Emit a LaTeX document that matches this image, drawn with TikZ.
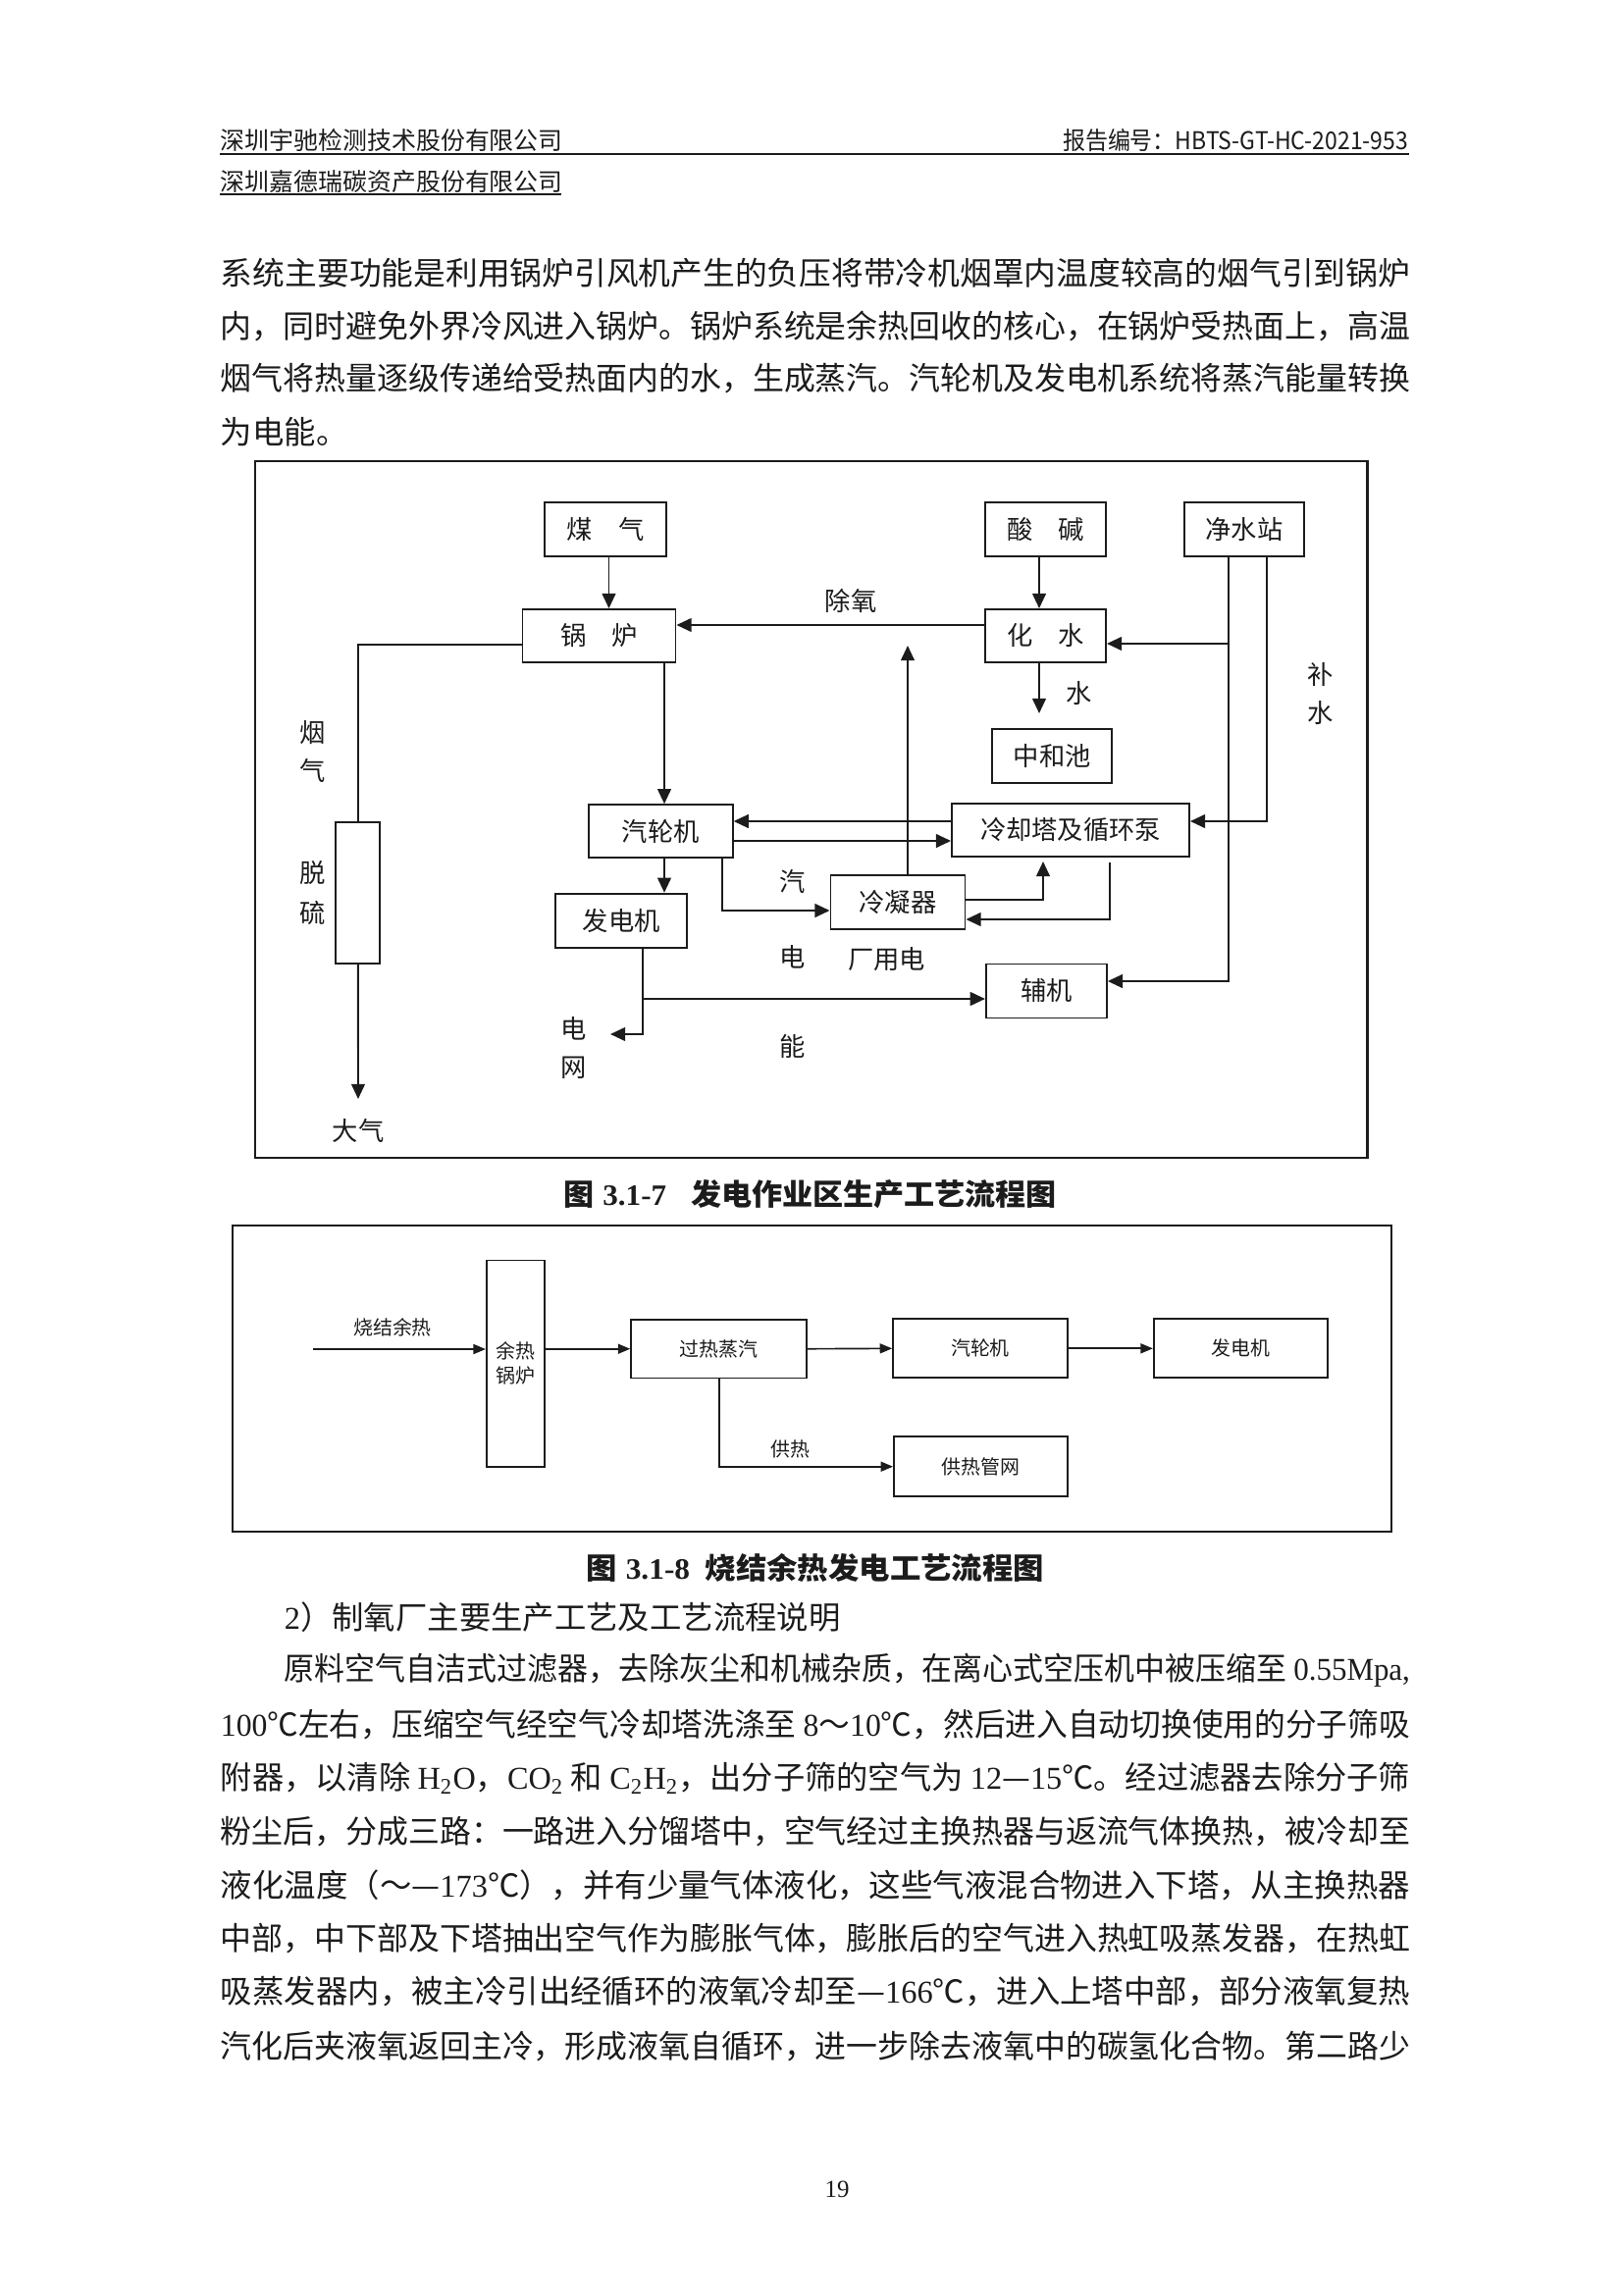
\documentclass[tikz,border=0pt]{standalone}
\usepackage{fontspec}
\usepackage{graphicx}
\setmainfont{Liberation Serif}
\newfontfamily\cjk{Noto Sans CJK SC}
\usetikzlibrary{positioning, arrows.meta}
\definecolor{pageInk}{HTML}{1C1C1C}
\newlength\pxl
\setlength\pxl{0.127mm}
\newcommand\tms[1]{{\rmfamily #1}}
\newcommand\fullline[1]{\resizebox{1212\pxl}{\height}{#1}}

\begin{document}
\begin{tikzpicture}[x=0.127mm, y=-0.127mm, font=\cjk, color=pageInk, line width=0.7pt,
  box/.style={draw, rectangle, inner sep=0pt, font=\cjk\fontsize{9.5}{11}\selectfont},
  boxs/.style={draw, rectangle, inner sep=0pt, align=center, line width=0.6pt, font=\cjk\fontsize{7.2}{9}\selectfont},
  lbl/.style={inner sep=0pt, font=\cjk\fontsize{9.5}{11}\selectfont},
  lbls/.style={inner sep=0pt, font=\cjk\fontsize{7.2}{9}\selectfont},
  arr/.style={-{Triangle[length=5.5pt, width=5pt]}},
  arrs/.style={-{Triangle[length=4.5pt, width=3.6pt]}, line width=0.6pt},
  body/.style={anchor=west, inner sep=0pt, font=\cjk\fontsize{11.7}{14}\selectfont},
  captxt/.style={inner sep=0pt, font=\cjk\bfseries\fontsize{10.9}{13}\selectfont}]
  \fill[white] (0,0) rectangle (1654,2340);
  \useasboundingbox (0,0) rectangle (1654,2340);

  % page header
  \node[anchor=west, inner sep=0pt, font=\cjk\fontsize{9}{11}\selectfont] (headA) at (224,143) {深圳宇驰检测技术股份有限公司};
  \node[anchor=east, inner sep=0pt, font=\cjk\fontsize{9}{11}\selectfont] (headNo) at (1436,143) {\resizebox{352\pxl}{\height}{报告编号：HBTS-GT-HC-2021-953}};
  \node[anchor=west, inner sep=0pt, font=\cjk\fontsize{9}{11}\selectfont] (headB) at (224,185) {深圳嘉德瑞碳资产股份有限公司};
  \draw[line width=0.9pt] (224,157) -- (1436,157);
  \draw[line width=0.5pt] (224,198) -- (572,198);

  % first paragraph
  \node[body] (p1) at (224,278) {\fullline{系统主要功能是利用锅炉引风机产生的负压将带冷机烟罩内温度较高的烟气引到锅炉}};
  \node[body] (p2) at (224,332) {\fullline{内，同时避免外界冷风进入锅炉。锅炉系统是余热回收的核心，在锅炉受热面上，高温}};
  \node[body] (p3) at (224,386) {\fullline{烟气将热量逐级传递给受热面内的水，生成蒸汽。汽轮机及发电机系统将蒸汽能量转换}};
  \node[body] (p4) at (224,440) {为电能。};

  % figure 3.1-7
  \draw[line width=0.8pt] (260,470) rectangle (1393.5,1180);
  \foreach \n/\cx/\cy/\w/\h/\t in {
    meiqi/617/539.5/124/55/{煤\quad 气},
    guolu/610.5/648/156/54/{锅\quad 炉},
    suanjian/1065.5/539.5/123/55/{酸\quad 碱},
    jingshui/1268/539.5/122/55/{净水站},
    huashui/1065.5/648/123/54/{化\quad 水},
    zhonghe/1072.4/770.8/122/55/{中和池},
    qilunji/673.2/847.2/147/54/{汽轮机},
    lengque/1091/845.9/242/54/{冷却塔及循环泵},
    lengning/915/919.2/137/55/{冷凝器},
    fadian/633.2/938.2/134/55/{发电机},
    fuji/1066.4/1010/123/55/{辅机},
    tuoliu/364.9/909.6/45/144/{}}{
    \node[box, minimum width=\w*0.127mm, minimum height=\h*0.127mm] (\n) at (\cx,\cy) {\t};
  }
  \foreach \n/\cx/\cy/\t in {
    yan/319/747/烟, qi/319/785/气, tuo/319/890/脱, liu/319/930/硫, daqi/365/1152/大气,
    chuyang/867/612/除氧, bu/1346/687/补, bushui/1346/727/水, shui/1100/707/水,
    qiB/808/898.5/汽, dian/808/975/电, neng/808/1066/能, changyong/903.5/978/厂用电,
    dianw/584.5/1048/电, wang/584.5/1088/网}{
    \node[lbl] (l-\n) at (\cx,\cy) {\t};
  }
  \coordinate (daqiIn) at (365,1120);
  \coordinate (zhIn) at (1059,727);
  \coordinate (jsA) at (1252,656);
  \coordinate (upTip) at (925,658);
  \coordinate (ltIn) at (1063,878);
  \coordinate (ltOut) at (1131,879);
  \coordinate (gridTip) at (622,1054);
  \coordinate (fjBr) at (655,1018);
  \draw (guolu.west |- 0,657) -| (tuoliu.north);
  \draw[arr] (tuoliu.south) -- (daqiIn);
  \draw[arr] (620.5,0 |- meiqi.south) -- (620.5,0 |- guolu.north);
  \draw[arr] (1059,0 |- suanjian.south) -- (1059,0 |- huashui.north);
  \draw[arr] (huashui.west |- 0,637) -- (guolu.east |- 0,637);
  \draw[arr] (1059,0 |- huashui.south) -- (zhIn);
  \draw[arr] (1252,0 |- jingshui.south) |- (fuji.east |- 0,1000);
  \draw[arr] (jsA) -- (huashui.east |- jsA);
  \draw[arr] (1291,0 |- jingshui.south) |- (lengque.east |- 0,837);
  \draw[arr] (677,0 |- guolu.south) -- (677,0 |- qilunji.north);
  \draw[arr] (lengque.west |- 0,837) -- (qilunji.east |- 0,837);
  \draw[arr] (qilunji.east |- 0,857) -- (lengque.west |- 0,857);
  \draw[arr] (925,0 |- lengning.north) -- (upTip);
  \draw[arr] (736,0 |- qilunji.south) |- (lengning.west |- 0,928);
  \draw[arr] (677,0 |- qilunji.south) -- (677,0 |- fadian.north);
  \draw[arr] (lengning.east |- 0,917) -| (ltIn);
  \draw[arr] (ltOut) |- (lengning.east |- 0,937);
  \draw[arr] (655,0 |- fadian.south) |- (gridTip);
  \draw[arr] (fjBr) -- (fuji.west |- fjBr);
  \node[captxt] (cap1) at (825.5,1217) {\resizebox{503\pxl}{\height}{图\hspace{0.3em}\tms{3.1-7}\hspace{0.8em}发电作业区生产工艺流程图}};

  % figure 3.1-8
  \draw[line width=0.8pt] (237,1249) rectangle (1418,1561);
  \foreach \n/\cx/\cy/\w/\h/\t in {
    yure/525.4/1389.7/59.3/210.7/{余热\\锅炉},
    guore/732.6/1374.7/179/59.3/{过热蒸汽},
    qlj/999/1374.3/178/60/{汽轮机},
    fdj/1264.2/1374.3/177/60/{发电机},
    gongre/999.4/1494.7/177/61/{供热管网}}{
    \node[boxs, minimum width=\w*0.127mm, minimum height=\h*0.127mm] (\n) at (\cx,\cy) {\t};
  }
  \node[lbls] (l-shaojie) at (400,1353) {烧结余热};
  \node[lbls] (l-gongre) at (805,1477) {供热};
  \coordinate (sjIn) at (319,1375);
  \draw[arrs] (sjIn) -- (yure.west |- sjIn);
  \draw[arrs] (yure.east |- guore.west) -- (guore.west);
  \draw[arrs] (guore.east) -- (qlj.west);
  \draw[arrs] (qlj.east) -- (fdj.west);
  \draw[arrs] (733,0 |- guore.south) |- (gongre.west);
  \node[captxt] (cap2) at (830.5,1598) {\resizebox{467\pxl}{\height}{图\hspace{0.3em}\tms{3.1-8}\hspace{0.5em}烧结余热发电工艺流程图}};

  % second text block
  \node[body] (q0) at (289,1648) {\tms{2}）制氧厂主要生产工艺及工艺流程说明};
  \node[body] (q1) at (289,1702) {\resizebox{1147\pxl}{\height}{原料空气自洁式过滤器，去除灰尘和机械杂质，在离心式空压机中被压缩至 \tms{0.55Mpa,}}};
  \node[body] (q2) at (224,1757) {\fullline{\tms{100}℃左右，压缩空气经空气冷却塔洗涤至 \tms{8}～\tms{10}℃，然后进入自动切换使用的分子筛吸}};
  \node[body] (q3) at (224,1812) {\fullline{附器，以清除 \tms{H\textsubscript{2}O}，\tms{CO\textsubscript{2}} 和 \tms{C\textsubscript{2}H\textsubscript{2}}，出分子筛的空气为 \tms{12}—\tms{15}℃。经过滤器去除分子筛}};
  \node[body] (q4) at (224,1867) {\fullline{粉尘后，分成三路：一路进入分馏塔中，空气经过主换热器与返流气体换热，被冷却至}};
  \node[body] (q5) at (224,1921) {\fullline{液化温度（～—\tms{173}℃），并有少量气体液化，这些气液混合物进入下塔，从主换热器}};
  \node[body] (q6) at (224,1976) {\fullline{中部，中下部及下塔抽出空气作为膨胀气体，膨胀后的空气进入热虹吸蒸发器，在热虹}};
  \node[body] (q7) at (224,2030) {\fullline{吸蒸发器内，被主冷引出经循环的液氧冷却至—\tms{166}℃，进入上塔中部，部分液氧复热}};
  \node[body] (q8) at (224,2085) {\fullline{汽化后夹液氧返回主冷，形成液氧自循环，进一步除去液氧中的碳氢化合物。第二路少}};

  \node[inner sep=0pt, font=\rmfamily\fontsize{9}{11}\selectfont] (pageNo) at (853,2231) {19};
\end{tikzpicture}
\end{document}
